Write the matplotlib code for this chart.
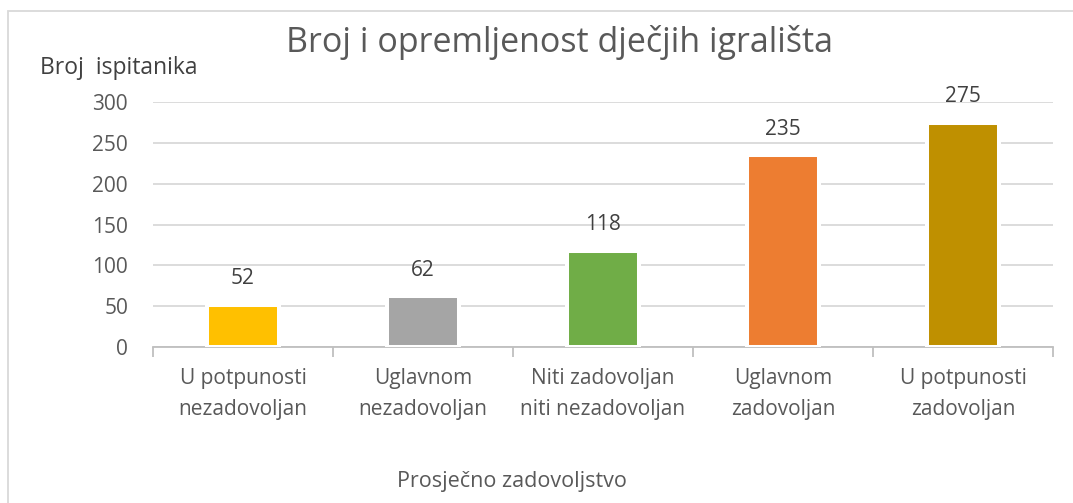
import matplotlib
matplotlib.use("Agg")
import matplotlib.pyplot as plt
from matplotlib.patches import Rectangle

## data
categories = ['U potpunosti\nnezadovoljan', 'Uglavnom\nnezadovoljan',
              'Niti zadovoljan\nniti nezadovoljan', 'Uglavnom\nzadovoljan',
              'U potpunosti\nzadovoljan']
counts = [52, 62, 118, 235, 275]
colors = ['#FFC000', '#A5A5A5', '#70AD47', '#ED7D31', '#BF9000']

plt.rcParams['font.family'] = ['Open Sans', 'DejaVu Sans']
text_col = '#595959'

fig = plt.figure(figsize=(10.73, 5.03), dpi=100)
ax = fig.add_axes([0.1426, 0.310, 0.8388, 0.487])

x = range(len(categories))
bars = ax.bar(x, counts, width=0.4, color=colors, edgecolor='white',
              linewidth=2.9, zorder=3)
for rect, v in zip(bars, counts):
    ax.annotate(str(v), (rect.get_x() + rect.get_width() / 2, v),
                xytext=(0, 11), textcoords='offset points', ha='center',
                va='bottom', fontsize=15, color='#404040')

ax.set_xlim(-0.5, len(categories) - 0.5)
ax.set_ylim(0, 300)
ax.set_yticks(range(0, 301, 50))
ax.yaxis.grid(True, color='#D9D9D9', linewidth=1.3, zorder=0)
ax.set_axisbelow(True)

## category ticks sit on the boundaries, labels in the middle
ax.set_xticks([i - 0.5 for i in range(len(categories) + 1)])
ax.set_xticklabels([])
ax.set_xticks(list(x), minor=True)
ax.set_xticklabels(categories, minor=True, fontsize=15, color=text_col,
                   linespacing=1.6)
ax.tick_params(axis='x', which='major', length=7, color='#BFBFBF', width=1.3)
ax.tick_params(axis='x', which='minor', length=0, pad=15)
ax.tick_params(axis='y', length=0, labelsize=15, labelcolor=text_col, pad=18)

for s in ['top', 'right', 'left']:
    ax.spines[s].set_visible(False)
ax.spines['bottom'].set_color('#BFBFBF')
ax.spines['bottom'].set_linewidth(1.3)

fig.text(559 / 1073, 1 - 42 / 503, 'Broj i opremljenost dječjih igrališta',
         ha='center', va='center', fontsize=24.5, color=text_col)
fig.text(40 / 1073, 1 - 68 / 503, 'Broj  ispitanika', ha='left', va='center',
         fontsize=16.5, color='#404040')
fig.text(512 / 1073, 1 - 482 / 503, 'Prosječno zadovoljstvo', ha='center',
         va='center', fontsize=15.5, color=text_col)

## chart frame, cut off at right and bottom like the screenshot
fig.patches.append(Rectangle((8 / 1073, -0.1), 1.2, 1 - 11 / 503 + 0.1,
                             transform=fig.transFigure, fill=False,
                             edgecolor='#D9D9D9', linewidth=1.3))

plt.savefig('out.png', dpi=100)
plt.close()
